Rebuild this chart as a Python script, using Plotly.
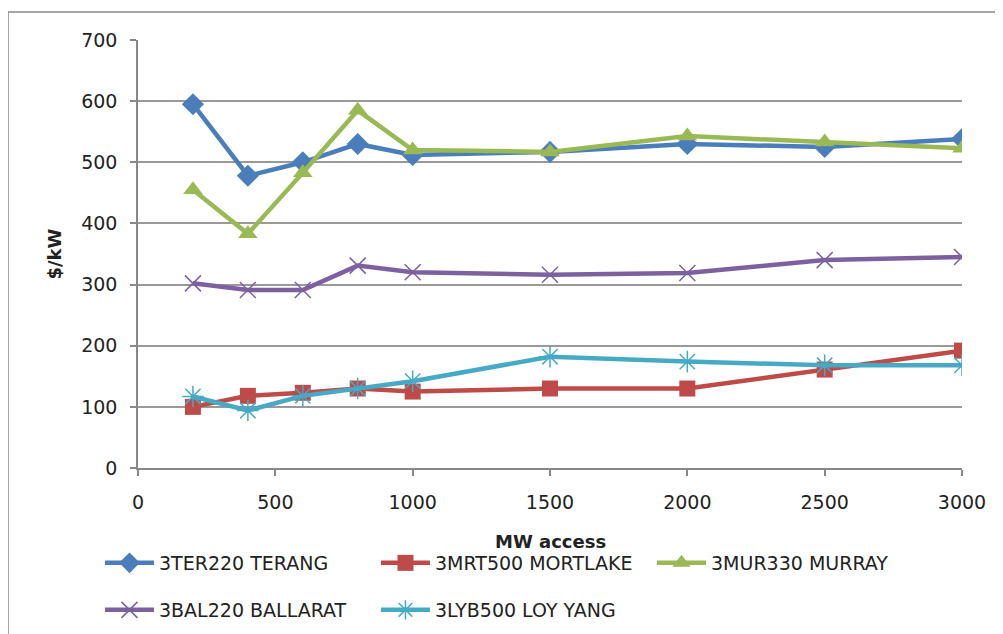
import plotly.graph_objects as go

mw = [200, 400, 600, 800, 1000, 1500, 2000, 2500, 3000]
terang = [595, 478, 500, 530, 512, 517, 530, 525, 538]
mortlake = [100, 118, 123, 130, 125, 130, 130, 161, 192]
murray = [455, 383, 483, 585, 520, 517, 543, 533, 523]
ballarat = [302, 291, 291, 331, 320, 316, 319, 340, 345]
loyyang = [117, 94, 118, 130, 142, 182, 174, 168, 168]

names = ["3TER220 TERANG", "3MRT500 MORTLAKE", "3MUR330 MURRAY",
         "3BAL220 BALLARAT", "3LYB500 LOY YANG"]
colors = ["#4A7EBB", "#BE4B48", "#98B954", "#7D60A0", "#46AAC5"]
symbols = ["diamond", "square", "triangle-up", "x-thin", "asterisk"]
sizes = [17, 16, 17, 16, 18]
series = [terang, mortlake, murray, ballarat, loyyang]
legends = ["legend", "legend", "legend", "legend2", "legend2"]
x_title = "MW access"
y_title = "$/kW"

FONT = "DejaVu Sans, Verdana, sans-serif"

fig = go.Figure()
for n, c, s, sz, ys, lg in zip(names, colors, symbols, sizes, series, legends):
    thin = s in ("x-thin", "asterisk")
    fig.add_trace(go.Scatter(
        x=mw, y=ys, name=n, mode="lines+markers",
        line=dict(color=c, width=4.5),
        marker=dict(symbol=s, size=sz, color=c,
                    line=dict(color=c, width=1.5 if thin else 0)),
        legend=lg,
    ))

# page body has 8px margin: plot area target at screen x 138..962, y 40..468
FW, FH = 1003, 634
L, T, W, H = 130, 32, 824, 428

leg_common = dict(orientation="h", xref="container", yref="container",
                  xanchor="left", yanchor="middle", x=92 / FW,
                  entrywidth=212, entrywidthmode="pixels", itemwidth=49,
                  font=dict(size=19), bgcolor="rgba(0,0,0,0)")

fig.update_layout(
    width=FW, height=FH,
    margin=dict(l=L, r=FW - L - W, t=T, b=FH - T - H),
    paper_bgcolor="white", plot_bgcolor="white",
    font=dict(family=FONT, size=19, color="#222"),
    showlegend=True,
    legend=dict(leg_common, y=1 - 555 / FH),
    legend2=dict(leg_common, y=1 - 602 / FH),
    xaxis=dict(range=[0, 3000], tickvals=[0, 500, 1000, 1500, 2000, 2500, 3000],
               showgrid=False, showline=True, linecolor="#888", linewidth=1.5,
               ticks="outside", ticklen=6, tickcolor="#888", tickwidth=1.5,
               tickfont=dict(size=19), zeroline=False, ticklabelstandoff=10,
               automargin=False),
    yaxis=dict(range=[0, 700], tickvals=[0, 100, 200, 300, 400, 500, 600, 700],
               showgrid=True, gridcolor="#999", gridwidth=1.5,
               showline=True, linecolor="#888", linewidth=1.5,
               ticks="outside", ticklen=6, tickcolor="#888", tickwidth=1.5,
               tickfont=dict(size=19), zeroline=False, ticklabelstandoff=9,
               automargin=False,
               title=dict(text="<b>" + y_title + "</b>", font=dict(size=18), standoff=15)),
)

fig.add_annotation(text="<b>" + x_title + "</b>", xref="paper", yref="paper",
                   x=0.5, y=(T + H - 533) / H, xanchor="center", yanchor="middle",
                   showarrow=False, font=dict(size=18, color="#222"))

fig.add_shape(type="rect", xref="paper", yref="paper",
              x0=(0 - L) / W, x1=1.2, y0=-0.5, y1=(H + T - 4) / H,
              line=dict(color="#888", width=1.5), fillcolor="rgba(0,0,0,0)",
              layer="below")

fig.write_html("out.html")
